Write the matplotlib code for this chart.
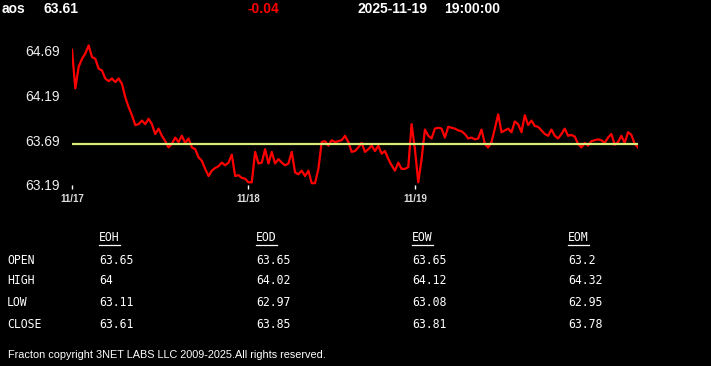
import matplotlib
matplotlib.use("Agg")
import matplotlib.pyplot as plt

# header
symbol = "aos"
last_price = "63.61"
change = "-0.04"
stamp_date = "2025-11-19"
stamp_time = "19:00:00"

# price series, one list per session
day_labels = ["11/17", "11/18", "11/19"]
day_17 = [64.70, 64.27, 64.51, 64.60, 64.66, 64.75, 64.62, 64.60, 64.49, 64.47,
          64.38, 64.35, 64.38, 64.34, 64.38, 64.32, 64.17, 64.06, 63.97, 63.86,
          63.87, 63.91, 63.87, 63.93, 63.87, 63.76, 63.82, 63.74, 63.68, 63.61,
          63.65, 63.72, 63.67, 63.74, 63.66, 63.71, 63.61, 63.59, 63.50, 63.46,
          63.37, 63.29, 63.35, 63.38, 63.40, 63.44, 63.41, 63.44, 63.53, 63.29,
          63.30, 63.27, 63.26]
day_18 = [63.22, 63.22, 63.56, 63.43, 63.44, 63.59, 63.43, 63.56, 63.43, 63.48,
          63.44, 63.41, 63.43, 63.56, 63.33, 63.31, 63.35, 63.29, 63.35, 63.21,
          63.21, 63.37, 63.67, 63.68, 63.63, 63.69, 63.67, 63.68, 63.69, 63.74,
          63.67, 63.56, 63.57, 63.61, 63.66, 63.56, 63.59, 63.63, 63.57, 63.63,
          63.54, 63.57, 63.48, 63.41, 63.35, 63.44, 63.37, 63.37, 63.39, 63.87]
day_19 = [63.59, 63.22, 63.48, 63.81, 63.74, 63.71, 63.82, 63.83, 63.82, 63.72,
          63.84, 63.83, 63.82, 63.80, 63.79, 63.76, 63.71, 63.72, 63.70, 63.71,
          63.81, 63.65, 63.61, 63.67, 63.82, 63.98, 63.78, 63.80, 63.82, 63.78,
          63.90, 63.87, 63.78, 63.97, 63.86, 63.91, 63.85, 63.84, 63.80, 63.76,
          63.74, 63.81, 63.74, 63.71, 63.76, 63.82, 63.74, 63.75, 63.73, 63.65,
          63.61, 63.66, 63.63, 63.68, 63.69, 63.70, 63.69, 63.66, 63.72, 63.76,
          63.64, 63.67, 63.74, 63.66, 63.78, 63.75, 63.65, 63.61]
prev_close = 63.65
y_ticks = [63.19, 63.69, 64.19, 64.69]

# summary table
col_names = ["EOH", "EOD", "EOW", "EOM"]
row_names = ["OPEN", "HIGH", "LOW", "CLOSE"]
table_vals = [["63.65", "63.65", "63.65", "63.2"],
              ["64", "64.02", "64.12", "64.32"],
              ["63.11", "62.97", "63.08", "62.95"],
              ["63.61", "63.85", "63.81", "63.78"]]
footer = "Fracton copyright 3NET LABS LLC 2009-2025.All rights reserved."

W, H = 711, 366
prices = day_17 + day_18 + day_19
day_starts = [0, len(day_17), len(day_17) + len(day_18)]

fig = plt.figure(figsize=(W / 100, H / 100), dpi=100, facecolor="black")
ax = fig.add_axes([72 / W, 181 / H, 566 / W, 142.3 / H])
ax.set_facecolor("black")

ax.plot(range(len(prices)), prices, color="#ff0000", lw=1.6, zorder=2,
        solid_joinstyle="round")
ax.axhline(prev_close, color="#d8ec7a", lw=1.6, zorder=3)

ax.set_xlim(0, len(prices) - 1)
ax.set_ylim(63.19, 64.78)
for s in ax.spines.values():
    s.set_visible(False)

ax.set_yticks(y_ticks)
ax.set_yticklabels([f"{v:.2f}" for v in y_ticks], color="#eeeeee",
                   fontsize=10, family="Liberation Sans")
ax.tick_params(axis="y", length=0, pad=9)
ax.set_xticks(day_starts)
ax.set_xticklabels(day_labels, color="#dddddd", fontsize=7,
                   family="Liberation Sans", fontweight="bold")
ax.tick_params(axis="x", length=3, width=1, color="white", pad=3.5)


def px(x, y):
    return x / W, 1 - y / H


hdr = dict(color="white", fontsize=10, fontweight="bold",
           family="Liberation Sans", va="center", ha="left")
fig.text(*px(2, 9), symbol, **hdr)
fig.text(*px(43, 9), last_price, **hdr)
fig.text(*px(247, 9), change, **{**hdr, "color": "#ff0000"})
fig.text(*px(358, 9), stamp_date, **hdr)
fig.text(*px(444, 9), stamp_time, **hdr)

mono = dict(color="white", fontsize=8.3, family="DejaVu Sans Mono",
            va="center", ha="left")
col_x = [99, 256, 412, 568]
row_y = [260, 281, 302, 324]
for x, name in zip(col_x, col_names):
    fig.text(*px(x, 238), name, **mono)
    fig.lines.append(plt.Line2D([x / W, (x + 21) / W], [1 - 244.5 / H] * 2,
                                color="white", lw=0.9, transform=fig.transFigure))
for y, rname, vals in zip(row_y, row_names, table_vals):
    fig.text(*px(7, y), rname, **mono)
    for x, v in zip(col_x, vals):
        fig.text(*px(x, y), v, **mono)

fig.text(*px(8, 355), footer, color="white", fontsize=7.8,
         family="Liberation Sans", va="center", ha="left")

fig.savefig("out.png", dpi=100, facecolor="black")
